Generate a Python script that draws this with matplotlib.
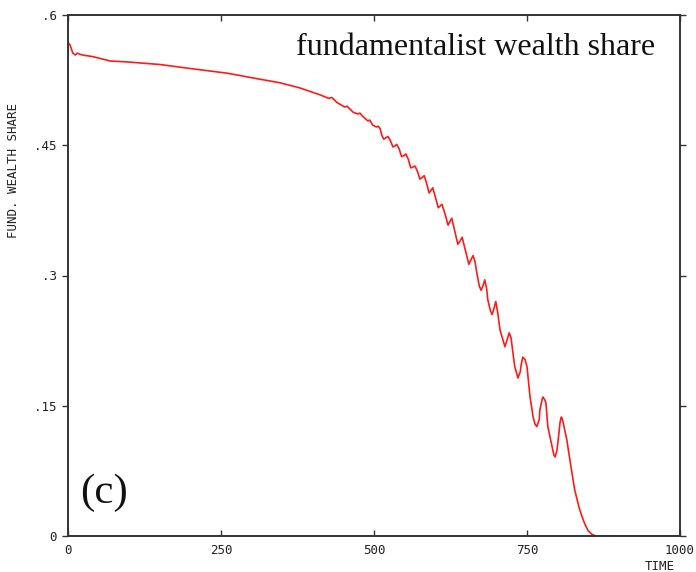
import matplotlib
matplotlib.use("Agg")
import matplotlib.pyplot as plt
from matplotlib.ticker import FixedLocator, FixedFormatter

# Fundamentalist wealth share over time
time = [0, 3, 8, 12, 15, 19, 23, 41, 69, 96, 150, 204, 260, 314, 346, 379,
        412, 426, 431, 440, 452, 456, 466, 474, 477, 482, 490, 493, 498,
        504, 507, 510, 513, 516, 520, 523, 527, 531, 534, 537, 541, 545,
        549, 552, 556, 560, 564, 567, 571, 575, 579, 582, 586, 590, 593,
        596, 600, 605, 608, 611, 616, 621, 624, 627, 632, 637, 641, 644,
        649, 655, 659, 662, 665, 668, 672, 675, 678, 681, 684, 686, 690,
        693, 696, 699, 702, 706, 711, 714, 717, 721, 724, 725, 730, 734,
        735, 739, 740, 743, 747, 750, 755, 760, 763, 766, 770, 771, 775,
        776, 779, 781, 784, 791, 794, 796, 799, 801, 804, 806, 807, 809,
        815, 822, 828, 835, 840, 845, 850, 856, 863, 1000]
share = [0.568, 0.566, 0.556, 0.554, 0.556, 0.555, 0.554, 0.552, 0.547,
         0.546, 0.543, 0.538, 0.533, 0.526, 0.522, 0.516, 0.508, 0.504,
         0.505, 0.499, 0.494, 0.495, 0.488, 0.486, 0.487, 0.483, 0.478,
         0.479, 0.473, 0.471, 0.472, 0.469, 0.461, 0.457, 0.459, 0.460,
         0.455, 0.448, 0.449, 0.451, 0.446, 0.437, 0.438, 0.440, 0.434,
         0.424, 0.425, 0.426, 0.420, 0.411, 0.413, 0.415, 0.406, 0.395,
         0.398, 0.401, 0.391, 0.378, 0.380, 0.382, 0.371, 0.358, 0.362,
         0.366, 0.351, 0.336, 0.340, 0.344, 0.330, 0.313, 0.319, 0.323,
         0.316, 0.303, 0.288, 0.283, 0.288, 0.295, 0.285, 0.272, 0.260,
         0.255, 0.262, 0.270, 0.258, 0.237, 0.225, 0.218, 0.225, 0.234,
         0.228, 0.222, 0.195, 0.185, 0.182, 0.189, 0.195, 0.206, 0.203,
         0.195, 0.160, 0.137, 0.129, 0.126, 0.134, 0.145, 0.158, 0.160,
         0.157, 0.153, 0.126, 0.103, 0.093, 0.091, 0.099, 0.111, 0.131,
         0.137, 0.136, 0.131, 0.111, 0.079, 0.053, 0.033, 0.022, 0.013,
         0.006, 0.002, 0.0, 0.0]

x_ticks = [0, 250, 500, 750, 1000]
x_labels = ["0", "250", "500", "750", "1000"]
y_ticks = [0, 0.15, 0.3, 0.45, 0.6]
y_labels = ["0", ".15", ".3", ".45", ".6"]

W, H = 696, 572
fig = plt.figure(figsize=(W / 100, H / 100), dpi=100)
ax = fig.add_axes([68 / W, 1 - 536 / H, 612 / W, 521 / H])

ax.plot(time, share, color="#ff1a1a", lw=1.2, solid_joinstyle="round",
        solid_capstyle="round")

ax.set_xlim(0, 1000)
ax.set_ylim(0, 0.6)

mono = "DejaVu Sans Mono"
ax.xaxis.set_major_locator(FixedLocator(x_ticks))
ax.xaxis.set_major_formatter(FixedFormatter(x_labels))
ax.yaxis.set_major_locator(FixedLocator(y_ticks))
ax.yaxis.set_major_formatter(FixedFormatter(y_labels))
ax.tick_params(axis="x", direction="in", length=4, width=1, color="#333333",
               top=True, pad=6, labelsize=9, labelcolor="#222222")
ax.tick_params(axis="y", direction="out", length=4, width=1, color="#333333",
               right=True, pad=4, labelsize=9, labelcolor="#222222")
for lab in ax.get_xticklabels() + ax.get_yticklabels():
    lab.set_fontfamily(mono)

for sp in ax.spines.values():
    sp.set_color("#333333")
    sp.set_linewidth(1.4)

ax.text(0.96, 0.965, "fundamentalist wealth share", transform=ax.transAxes,
        ha="right", va="top", fontsize=23, family="Liberation Serif",
        color="#111111")
ax.text(0.02, 0.083, "(c)", transform=ax.transAxes, ha="left",
        va="center", fontsize=31, family="Liberation Serif", color="#111111")

fig.text(14 / W, 1 - 170 / H, "FUND. WEALTH SHARE", rotation=90,
         ha="center", va="center", fontsize=9, family=mono, color="#222222")
fig.text(660 / W, 1 - 567 / H, "TIME", ha="center", va="center",
         fontsize=9, family=mono, color="#222222")

fig.savefig("out.png", dpi=100)
